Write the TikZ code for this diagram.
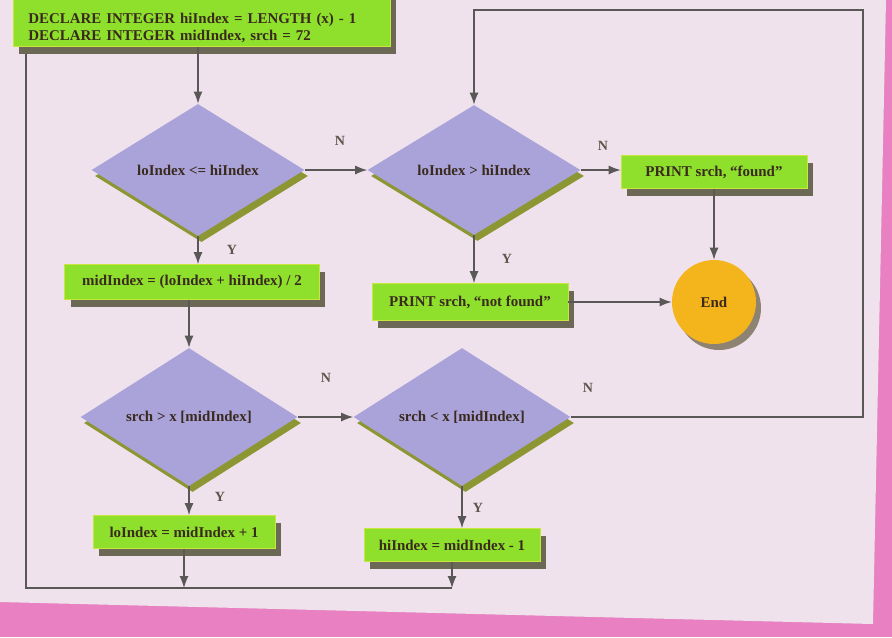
\documentclass[tikz,border=0pt]{standalone}
\usepackage{fontspec}
\setmainfont{Liberation Serif}
\usetikzlibrary{shapes.geometric,shadows,arrows.meta,positioning}

\definecolor{paper}{HTML}{EFE2EC}
\definecolor{pinkedge}{HTML}{E880C2}
\definecolor{boxgreen}{HTML}{8EE02C}
\definecolor{boxrim}{HTML}{C9E63C}
\definecolor{boxshade}{HTML}{6C6856}
\definecolor{decfill}{HTML}{A9A3DA}
\definecolor{decshade}{HTML}{8C9632}
\definecolor{endfill}{HTML}{F4B41C}
\definecolor{endshade}{HTML}{8E8272}
\definecolor{ink}{HTML}{3A2A1E}
\definecolor{wire}{HTML}{5A5856}

\begin{document}
\begin{tikzpicture}[x=0.02cm, y=-0.02cm,
	every node/.style={font=\fontsize{8.5}{10}\selectfont\bfseries, text=ink},
	process/.style={rectangle, fill=boxgreen, draw=boxrim, line width=0.4pt, inner sep=2pt,
		drop shadow={shadow xshift=1.2mm, shadow yshift=-1.4mm, fill=boxshade, opacity=1}},
	decision/.style={diamond, fill=decfill, inner sep=0pt, minimum width=42.6mm, minimum height=26mm,
		drop shadow={shadow xshift=0.7mm, shadow yshift=-1.2mm, fill=decshade, opacity=1}},
	terminal/.style={circle, fill=endfill, minimum size=16.8mm, inner sep=0pt,
		drop shadow={shadow xshift=1mm, shadow yshift=-1.2mm, fill=endshade, opacity=1}},
	lbl/.style={font=\fontsize{8}{9}\selectfont\bfseries, text=ink!80},
	wireline/.style={draw=wire, line width=0.7pt},
	flow/.style={wireline, -{Latex[length=2.4mm,width=1.8mm]}}]

	% page of the book
	\fill[pinkedge] (0,0) rectangle (892,637);
	\fill[paper] (0,0) -- (886,0) -- (873,624) -- (0,602) -- cycle;
	\useasboundingbox (0,0) rectangle (892,637);

	% blocks
	\node[process, anchor=south west, text width=69.4mm, text height=22pt, inner xsep=3mm, align=left] (init) at (13,47)
		{DECLARE INTEGER hiIndex = LENGTH (x) - 1\\DECLARE INTEGER midIndex, srch = 72};
	\node[decision] (test1) at (198,170) {loIndex <= hiIndex};
	\node[decision] (test2) at (474,170) {loIndex > hiIndex};
	\node[process, minimum width=37.2mm, minimum height=6.6mm] (found) at (714,172) {PRINT srch, “found”};
	\node[process, minimum width=39.2mm, minimum height=7.4mm] (notfound) at (470,302) {PRINT srch, “not found”};
	\node[terminal] (end) at (714,302) {End};
	\node[process, minimum width=51mm, minimum height=7mm] (mid) at (192,282) {midIndex = (loIndex + hiIndex) / 2};
	\node[decision, minimum width=43.4mm] (test3) at (189,417) {srch > x [midIndex]};
	\node[decision, minimum width=43.4mm] (test4) at (462,417) {srch < x [midIndex]};
	\node[process, minimum width=36.4mm, minimum height=6.6mm] (lo) at (184,532) {loIndex = midIndex + 1};
	\node[process, minimum width=35.2mm, minimum height=6.6mm] (hi) at (452,545) {hiIndex = midIndex - 1};

	% branch labels
	\node[lbl] (n1) at (340,141) {N};
	\node[lbl] (n2) at (603,146) {N};
	\node[lbl] (n3) at (326,378) {N};
	\node[lbl] (n4) at (588,388) {N};
	\node[lbl] (y1) at (232,250) {Y};
	\node[lbl] (y2) at (507,259) {Y};
	\node[lbl] (y3) at (220,497) {Y};
	\node[lbl] (y4) at (478,508) {Y};

	% loop corners
	\coordinate (bot) at (26,588);
	\coordinate (rtop) at (863,10);
	\coordinate (loopend) at ([yshift=-1.4mm]init.south west);

	% connectors
	\draw[flow] (test1.north |- init.south) -- (test1.north);
	\draw[flow] (test1.east) -- (test2.west);
	\draw[flow] (test1.south) -- (test1.south |- mid.north);
	\draw[flow] (test2.east) -- (test2.east -| found.west);
	\draw[flow] (test2.south) -- (test2.south |- notfound.north);
	\draw[flow] (found.south) -- (end.north);
	\draw[flow] (notfound.east) -- (end.west);
	\draw[flow] (mid.south -| test3.north) -- (test3.north);
	\draw[flow] (test3.east) -- (test4.west);
	\draw[flow] (test3.south) -- (test3.south |- lo.north);
	\draw[flow] (test4.south) -- (test4.south |- hi.north);
	\draw[flow] (test4.east) -- (test4.east -| rtop) -- (rtop) -- (rtop -| test2.north) -- (test2.north);
	\draw[flow] (lo.south) -- (lo.south |- bot);
	\draw[flow] (hi.south) -- (hi.south |- bot);
	\draw[wireline] (hi.south |- bot) -- (bot) -- (bot |- loopend);
\end{tikzpicture}
\end{document}
